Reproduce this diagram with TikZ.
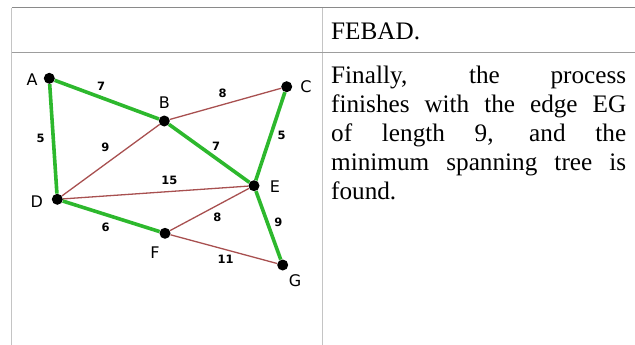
\documentclass[tikz,border=0pt]{standalone}
\usepackage{fontspec}
\setmainfont{Liberation Serif}
\newfontfamily\graphfont{DejaVu Sans}
\usetikzlibrary{backgrounds}

\definecolor{treegreen}{HTML}{2DB82D}
\definecolor{edgered}{HTML}{A85050}
\definecolor{gridgray}{HTML}{C4C4C4}
\definecolor{topgray}{HTML}{8A8A8A}

\begin{document}
\begin{tikzpicture}[
    x=1pt, y=-1pt,
    vertex/.style={circle, fill=black, minimum size=11pt, inner sep=0pt},
    vlabel/.style={font=\graphfont\fontsize{16}{16}\selectfont},
    wlabel/.style={font=\graphfont\bfseries\fontsize{11.5}{11.5}\selectfont},
    tree/.style={treegreen, line width=3.6pt},
    other/.style={edgered, line width=1.3pt},
    rule/.style={gridgray, line width=1pt},
]
\useasboundingbox (0,0) rectangle (635,345);

% --- Table frame ---
\coordinate (tl) at (11.5,8);
\coordinate (tr) at (635,8);
\coordinate (ml) at (11.5,52.5);
\coordinate (mr) at (635,52.5);
\coordinate (bl) at (11.5,345);
\coordinate (ct) at (322,8);
\coordinate (cb) at (322,345);
\draw[rule] (tl) -- (bl);
\draw[rule] (ct) -- (cb);
\draw[rule, gridgray!80!black] (ml) -- (mr);
\draw[topgray, line width=1pt] (tl) -- (tr);

% --- Text cells ---
\node[anchor=base west, inner sep=0pt, font=\fontsize{25.2}{29}\selectfont]
    (prev) at (331,40) {FEBAD.};
\node[anchor=base west, inner sep=0pt, text width=295pt, align=justify,
      font=\fontsize{25.2}{29}\selectfont] (final) at (331,84)
    {Finally, the process\linebreak finishes with the edge EG\linebreak
     of length 9, and the\linebreak minimum spanning tree is\linebreak found.};

% --- Vertices ---
\foreach \v/\x/\y in {A/49.3/78.3, B/164.3/121, C/286.7/86.7, D/57.3/199.3,
                      E/254/185.7, F/165/233.3, G/282.7/265} {
    \node[vertex] (\v) at (\x,\y) {};
}

% --- Vertex labels ---
\foreach \v/\x/\y in {A/32/80, B/164.3/102.5, C/306/86.5, D/36.7/202,
                      E/275/187, F/155/252.5, G/295/281} {
    \node[vlabel] (l\v) at (\x,\y) {\v};
}

% --- Edges ---
\begin{pgfonlayer}{background}
\foreach \a/\b in {B/C, B/D, D/E, E/F, F/G} {
    \draw[other] (\a) -- (\b);
}
\foreach \a/\b in {A/B, A/D, B/E, C/E, D/F, E/G} {
    \draw[tree] (\a) -- (\b);
}
\end{pgfonlayer}

% --- Edge weights ---
\foreach \n/\w/\x/\y in {ab/7/101/86, bc/8/222.7/93.3, ad/5/40.7/138.3,
                         bd/9/105.3/147.3, be/7/216/146, ce/5/281.7/135,
                         de/15/169.3/180.7, ef/8/217.3/217.3, eg/9/278.3/222.7,
                         df/6/105.7/227.3, fg/11/225.7/259.3} {
    \node[wlabel] (w\n) at (\x,\y) {\w};
}

\end{tikzpicture}
\end{document}
